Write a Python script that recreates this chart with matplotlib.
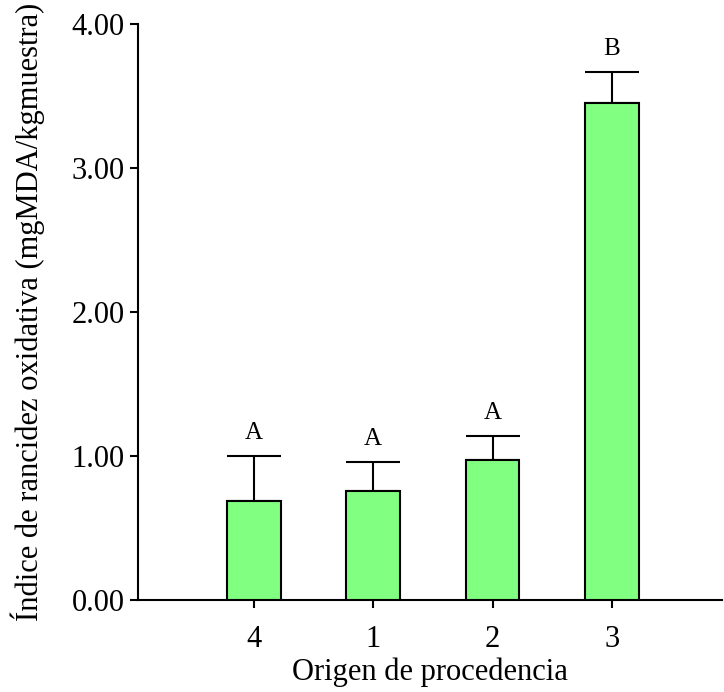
import numpy as np
import matplotlib.pyplot as plt

plt.rcParams["font.family"] = ["Liberation Serif", "DejaVu Serif"]

origen = ["4", "1", "2", "3"]
media = [0.69, 0.76, 0.97, 3.45]
error = [0.31, 0.20, 0.17, 0.22]
letras = ["A", "A", "A", "B"]

fig = plt.figure(figsize=(7.24, 6.92), dpi=100)
ax = fig.add_axes([0.1906, 0.133, 0.8064, 0.8323])

x = np.arange(1, len(origen) + 1)
ax.bar(x, media, width=0.45, color="#80ff80", edgecolor="black", linewidth=1.5, zorder=3)
ax.errorbar(x, media, yerr=[np.zeros(len(error)), error], fmt="none",
            ecolor="black", elinewidth=1.5, capsize=19.5, capthick=1.5, zorder=2)

for xi, m, e, l in zip(x, media, error, letras):
    ax.annotate(l, (xi, m + e), xytext=(0, 12), textcoords="offset points",
                ha="center", va="baseline", fontsize=18)

ax.set_xlim(0.03, 4.92)
ax.set_ylim(0, 4.0)
ax.set_xticks(x)
ax.set_xticklabels(origen)
ax.set_yticks([0, 1, 2, 3, 4])
ax.set_yticklabels(["%.2f" % v for v in [0, 1, 2, 3, 4]])
ax.tick_params(axis="both", labelsize=22, width=1.5, length=6, direction="out")
ax.tick_params(axis="x", pad=12)

for s in ["top", "right"]:
    ax.spines[s].set_visible(False)
for s in ["left", "bottom"]:
    ax.spines[s].set_linewidth(1.5)

ax.set_xlabel("Origen de procedencia", fontsize=22)
ax.set_ylabel("Índice de rancidez oxidativa (mgMDA/kgmuestra)", fontsize=22)
ax.xaxis.set_label_coords(0.5, -0.125)
ax.yaxis.set_label_coords(-0.189, 0.5)
ax.xaxis.label.set_va("center")
ax.yaxis.label.set_va("center")

fig.savefig("out.png", dpi=100)
